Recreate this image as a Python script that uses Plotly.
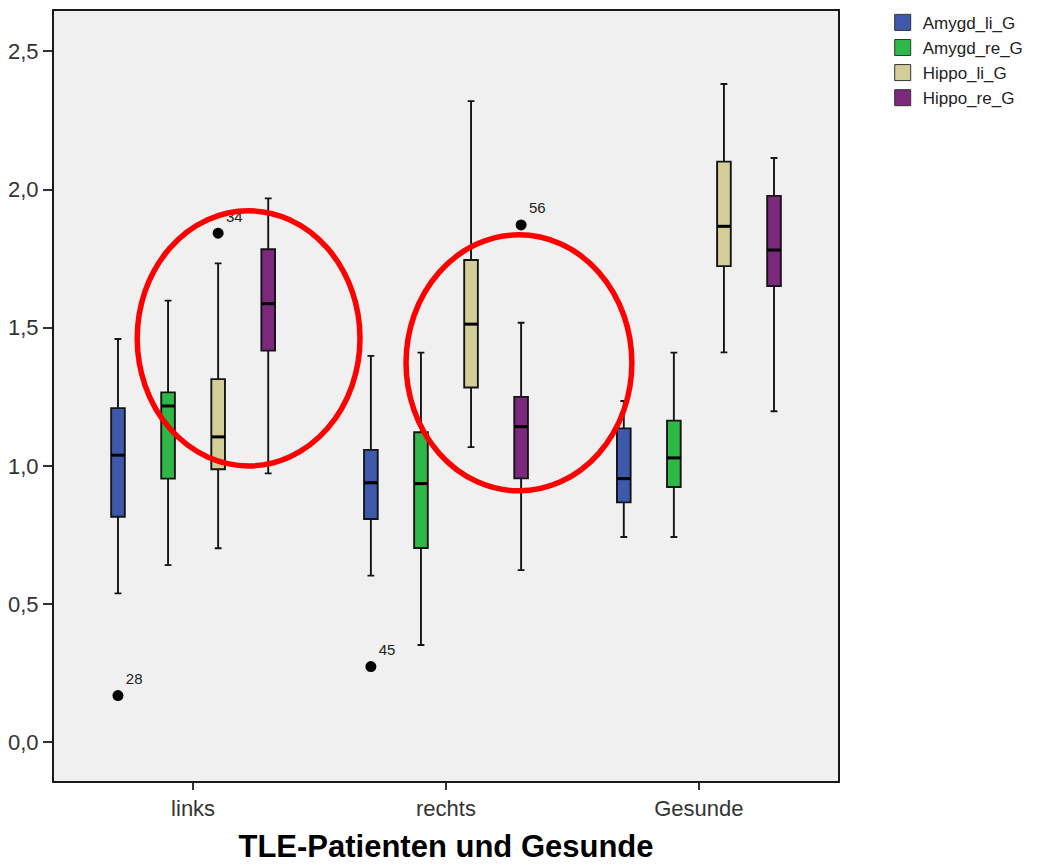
import plotly.graph_objects as go

# Groups on the x axis and the four measured structures
groups = ["links", "rechts", "Gesunde"]
series = ["Amygd_li_G", "Amygd_re_G", "Hippo_li_G", "Hippo_re_G"]
colors = ["#3E58AC", "#2EB848", "#D3CE97", "#7C287D"]

# Box statistics, one row per structure, one column per group
lower_whisker = [
    [0.539, 0.603, 0.743],
    [0.641, 0.352, 0.743],
    [0.702, 1.068, 1.411],
    [0.973, 0.623, 1.198],
]
quartile1 = [
    [0.816, 0.808, 0.868],
    [0.954, 0.703, 0.924],
    [0.988, 1.284, 1.723],
    [1.417, 0.955, 1.651],
]
medians = [
    [1.039, 0.939, 0.954],
    [1.217, 0.936, 1.029],
    [1.105, 1.513, 1.867],
    [1.587, 1.142, 1.781],
]
quartile3 = [
    [1.209, 1.058, 1.136],
    [1.266, 1.122, 1.164],
    [1.314, 1.745, 2.101],
    [1.784, 1.250, 1.977],
]
upper_whisker = [
    [1.459, 1.398, 1.235],
    [1.598, 1.410, 1.410],
    [1.733, 2.320, 2.382],
    [1.968, 1.518, 2.114],
]

# Outlying cases (case numbers as labels)
outlier_series = ["Amygd_li_G", "Hippo_li_G", "Amygd_li_G", "Hippo_re_G"]
outlier_groups = ["links", "links", "rechts", "rechts"]
outlier_values = [0.169, 1.842, 0.274, 1.872]
outlier_labels = ["28", "34", "45", "56"]

# Highlight ellipses: x0, x1 (group units), y0, y1
highlight_x0 = [-0.221, 0.842]
highlight_x1 = [0.660, 1.735]
highlight_y0 = [1.000, 0.910]
highlight_y1 = [1.923, 1.836]

y_ticks = [0.0, 0.5, 1.0, 1.5, 2.0, 2.5]

FONT = "Liberation Sans, Arial, sans-serif"
SLOT = 0.198      # distance between neighbouring boxes inside a group
BOX_W = 0.054     # box width in group units


def pos(series_idx, group_idx):
    return group_idx + (series_idx - 1.5) * SLOT


fig = go.Figure()

for s, name in enumerate(series):
    xs = [pos(s, g) for g in range(len(groups))]
    fig.add_trace(go.Box(
        name=name,
        legendgroup=name,
        showlegend=False,
        x=xs,
        q1=quartile1[s],
        median=medians[s],
        q3=quartile3[s],
        lowerfence=lower_whisker[s],
        upperfence=upper_whisker[s],
        width=BOX_W,
        whiskerwidth=0.5,
        fillcolor=colors[s],
        line=dict(color="#151515", width=1.9),
        boxpoints=False,
        hoverinfo="y",
    ))

# Heavy median bars drawn on top of each box
for s, name in enumerate(series):
    mx, my = [], []
    for g in range(len(groups)):
        p = pos(s, g)
        mx += [p - BOX_W / 2, p + BOX_W / 2, None]
        my += [medians[s][g], medians[s][g], None]
    fig.add_trace(go.Scatter(
        x=mx, y=my, mode="lines",
        line=dict(color="black", width=3),
        legendgroup=name, showlegend=False, hoverinfo="skip",
    ))

# Legend entries as filled square swatches
for s, name in enumerate(series):
    fig.add_trace(go.Scatter(
        x=[None], y=[None], mode="markers", name=name, legendgroup=name,
        marker=dict(symbol="square", size=17, color=colors[s],
                    line=dict(color="#333333", width=1)),
    ))

# Outlier points with case labels
ox = [pos(series.index(s), groups.index(g)) for s, g in zip(outlier_series, outlier_groups)]
fig.add_trace(go.Scatter(
    x=ox, y=outlier_values, mode="markers+text",
    text=outlier_labels, textposition="top right",
    textfont=dict(family=FONT, size=15, color="#222222"),
    marker=dict(color="black", size=11),
    showlegend=False, hoverinfo="y",
))

# Red ellipses marking the compared pairs
for x0, x1, y0, y1 in zip(highlight_x0, highlight_x1, highlight_y0, highlight_y1):
    fig.add_shape(type="circle", xref="x", yref="y",
                  x0=x0, x1=x1, y0=y0, y1=y1,
                  line=dict(color="#FF0000", width=5.5), layer="above")

fig.update_layout(
    width=1039, height=864,
    margin=dict(l=54, r=201, t=11, b=83, autoexpand=False),
    paper_bgcolor="white",
    plot_bgcolor="#F0F0F0",
    separators=",.",
    boxmode="overlay",
    font=dict(family=FONT, color="#333333"),
    legend=dict(
        x=1.057, y=1.008, xanchor="left", yanchor="top",
        font=dict(family=FONT, size=17, color="#222222"),
        tracegroupgap=0, itemwidth=30, itemsizing="trace",
        bgcolor="rgba(0,0,0,0)",
    ),
    showlegend=True,
)

fig.update_xaxes(
    range=[-0.55, 2.55],
    tickmode="array", tickvals=list(range(len(groups))), ticktext=groups,
    ticks="outside", ticklen=7, tickwidth=1.5, tickcolor="#333333",
    tickfont=dict(family=FONT, size=22, color="#333333"),
    showline=True, linecolor="#1a1a1a", linewidth=2, mirror=True,
    showgrid=False, zeroline=False, automargin=False,
    title=dict(text="<b>TLE-Patienten und Gesunde</b>",
               font=dict(family=FONT, size=31, color="black"), standoff=28),
)
fig.update_yaxes(
    range=[-0.14, 2.646],
    tickmode="array", tickvals=y_ticks, tickformat=".1f",
    ticks="outside", ticklen=9, tickwidth=1.5, tickcolor="#333333",
    tickfont=dict(family=FONT, size=22, color="#333333"),
    showline=True, linecolor="#1a1a1a", linewidth=2, mirror=True,
    showgrid=False, zeroline=False, automargin=False,
)

fig.write_html("out.html")
